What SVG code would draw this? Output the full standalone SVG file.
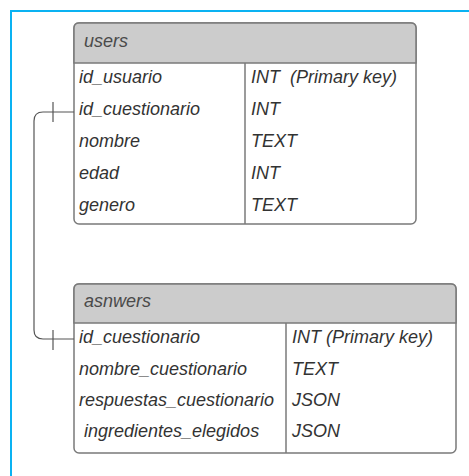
<svg xmlns="http://www.w3.org/2000/svg" width="469" height="476" viewBox="0 0 469 476">
<style>
.tbl{fill:#ffffff;stroke:#7a7a7a;stroke-width:1.5}
.hdr{fill:#cccccc;stroke:#7a7a7a;stroke-width:1.5}
.ln{stroke:#7a7a7a;stroke-width:1.5;fill:none}
.t{font-family:"Liberation Sans",Arial,sans-serif;font-style:italic;font-size:18px;fill:#333333}
.h{font-family:"Liberation Sans",Arial,sans-serif;font-style:italic;font-size:18px;fill:#4a4a4a}
.conn{stroke:#555555;stroke-width:1.2;fill:none}
</style>
<rect width="469" height="476" fill="#ffffff"/>
<path d="M11,476 V11 H469" fill="none" stroke="#0ab2f2" stroke-width="2"/>
<g id="users">
<rect class="tbl" x="74" y="23" width="342" height="201" rx="5"/>
<path class="hdr" d="M74,63 V28 Q74,23 79,23 H411 Q416,23 416,28 V63 Z"/>
<line class="ln" x1="245" y1="63" x2="245" y2="224"/>
<text class="h" x="84" y="47">users</text>
<text class="t" x="79" y="83">id_usuario</text>
<text class="t" x="251" y="83" xml:space="preserve">INT  (Primary key)</text>
<text class="t" x="79" y="115">id_cuestionario</text>
<text class="t" x="251" y="115">INT</text>
<text class="t" x="79" y="147">nombre</text>
<text class="t" x="251" y="147">TEXT</text>
<text class="t" x="79" y="179">edad</text>
<text class="t" x="251" y="179">INT</text>
<text class="t" x="79" y="211">genero</text>
<text class="t" x="251" y="211">TEXT</text>
</g>
<g id="asnwers">
<rect class="tbl" x="74" y="284" width="382" height="169" rx="5"/>
<path class="hdr" d="M74,323 V289 Q74,284 79,284 H451 Q456,284 456,289 V323 Z"/>
<line class="ln" x1="286" y1="323" x2="286" y2="453"/>
<text class="h" x="84" y="307">asnwers</text>
<text class="t" x="79" y="343">id_cuestionario</text>
<text class="t" x="292" y="343">INT (Primary key)</text>
<text class="t" x="79" y="375">nombre_cuestionario</text>
<text class="t" x="292" y="375">TEXT</text>
<text class="t" x="79" y="406">respuestas_cuestionario</text>
<text class="t" x="292" y="406">JSON</text>
<text class="t" x="84" y="437">ingredientes_elegidos</text>
<text class="t" x="292" y="437">JSON</text>
</g>
<g id="connectors">
<path class="conn" d="M74,112 H43 Q34,112 34,121 V330 Q34,339 43,339 H74"/>
<line class="conn" x1="53" y1="102" x2="53" y2="122"/>
<line class="conn" x1="53" y1="330" x2="53" y2="350"/>
</g>
</svg>
